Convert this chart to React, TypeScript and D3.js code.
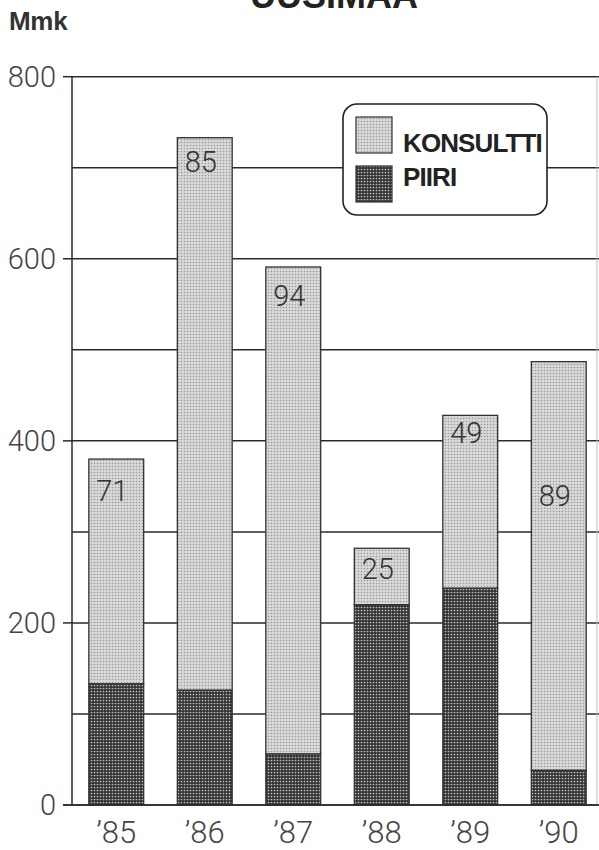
import React from "react";
import * as d3 from "d3";

const years = ["’85", "’86", "’87", "’88", "’89", "’90"];
const piiri = [133, 126, 56, 220, 238, 38];
const total = [380, 733, 591, 282, 428, 487];
const shareLabels = ["71", "85", "94", "25", "49", "89"];
const labelLevels = [345, 707, 560, 260, 409, 340];
const yTicks = [0, 200, 400, 600, 800];
const yGrid = [0, 100, 200, 300, 400, 500, 600, 700, 800];
const seriesNames = ["KONSULTTI", "PIIRI"];

const W = 599;
const H = 850;
const numFont = "Roboto, 'Liberation Sans', Arial, sans-serif";
const boldFont = "'Liberation Sans', Arial, Helvetica, sans-serif";

export default function App() {
  const x = d3.scaleBand<string>().domain(years).range([72, 603]).paddingInner(0.38).paddingOuter(0.19);
  const y = d3.scaleLinear().domain([0, 800]).range([805, 76.7]);
  const axisX = 72;

  return (
    <svg width={W} height={H} style={{ position: "absolute", left: 0, top: 0, background: "#fff" }}>
      <defs>
        <pattern id="patLight" width={3} height={3} patternUnits="userSpaceOnUse">
          <rect width={3} height={3} fill="#d8d8d8" />
          <circle cx={1.5} cy={1.5} r={0.8} fill="#999" />
        </pattern>
        <pattern id="patDark" width={3} height={3} patternUnits="userSpaceOnUse">
          <rect width={3} height={3} fill="#333" />
          <circle cx={1.5} cy={1.5} r={0.85} fill="#c4c4c4" />
        </pattern>
      </defs>

      {/* title */}
      <text x={334} y={8} textAnchor="middle" fontFamily={boldFont} fontWeight="bold" fontSize={36} fill="#222">UUSIMAA</text>
      <text x={9} y={30} fontFamily={boldFont} fontWeight="bold" fontSize={26} fill="#333" letterSpacing={-0.3}>Mmk</text>

      {/* gridlines */}
      {yGrid.map((v) => (
        <line key={"g" + v} x1={axisX} x2={W} y1={y(v)} y2={y(v)} stroke="#2a2a2a" strokeWidth={1.5} />
      ))}
      {/* ticks and labels */}
      {yTicks.map((v) => (
        <g key={"t" + v}>
          <line x1={63} x2={axisX} y1={y(v)} y2={y(v)} stroke="#2a2a2a" strokeWidth={1.5} />
          <text x={56} y={y(v)} dy="0.36em" textAnchor="end" fontFamily={numFont} fontWeight={300} fontSize={29} fill="#444">{v}</text>
        </g>
      ))}
      {/* y axis */}
      <line x1={axisX} x2={axisX} y1={y(800)} y2={y(0)} stroke="#2a2a2a" strokeWidth={1.5} />
      {/* right frame */}
      <line x1={597} x2={597} y1={y(800)} y2={y(0)} stroke="#bbb" strokeWidth={1} />

      {/* bars */}
      {years.map((yr, i) => {
        const x0 = x(yr)!;
        const bw = x.bandwidth();
        return (
          <g key={yr}>
            <rect x={x0} y={y(total[i])} width={bw} height={y(piiri[i]) - y(total[i])} fill="url(#patLight)" stroke="#333" strokeWidth={1.3} />
            <rect x={x0} y={y(piiri[i])} width={bw} height={y(0) - y(piiri[i])} fill="url(#patDark)" stroke="#333" strokeWidth={1.3} />
            <text x={x0 + bw / 2 - 4} y={y(labelLevels[i])} dy="0.36em" textAnchor="middle" fontFamily={numFont} fontWeight={300} fontSize={29} fill="#333">{shareLabels[i]}</text>
            <text x={x0 + bw / 2} y={843} textAnchor="middle" fontFamily={numFont} fontWeight={300} fontSize={31} fill="#444">{yr}</text>
          </g>
        );
      })}
      {/* baseline redraw */}
      <line x1={63} x2={W} y1={y(0)} y2={y(0)} stroke="#2a2a2a" strokeWidth={1.6} />

      {/* legend */}
      <rect x={343} y={104} width={204} height={111} rx={14} ry={14} fill="#fff" stroke="#222" strokeWidth={1.6} />
      {seriesNames.map((s, i) => (
        <g key={s}>
          <rect x={356} y={117 + i * 49} width={36} height={36} fill={i === 0 ? "url(#patLight)" : "url(#patDark)"} stroke="#333" strokeWidth={1.2} />
          <text x={403} y={152 + i * 34} fontFamily={boldFont} fontWeight="bold" fontSize={26} fill="#222" letterSpacing={-0.9}>{s}</text>
        </g>
      ))}
    </svg>
  );
}
